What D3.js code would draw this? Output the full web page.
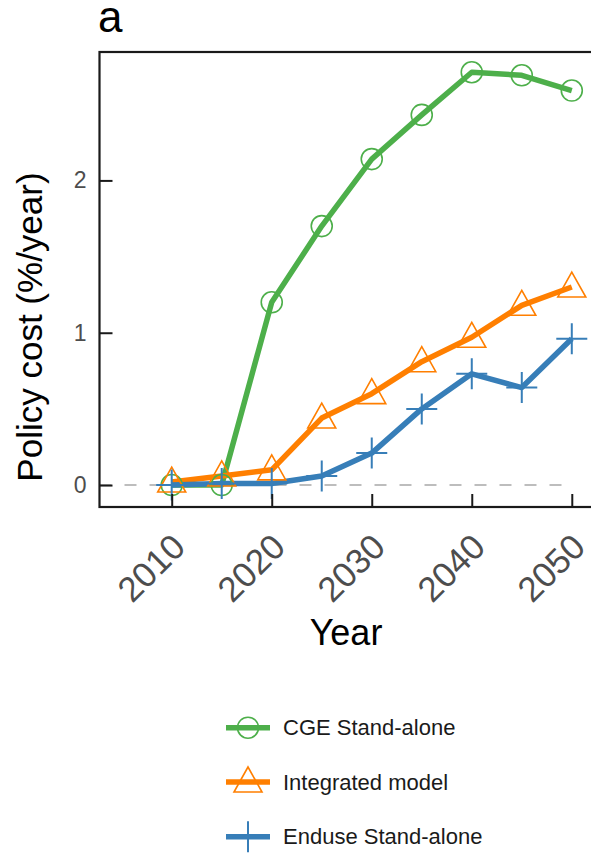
<!DOCTYPE html>
<html><head><meta charset="utf-8">
<script src="https://cdn.jsdelivr.net/npm/d3@7"></script>
<style>body{margin:0;background:#fff;} svg{display:block;font-family:"Liberation Sans",Arial,sans-serif;}</style>
</head><body>
<svg id="c" width="591" height="855"></svg>
<script>
const years = [2010, 2015, 2020, 2025, 2030, 2035, 2040, 2045, 2050];
const cgeValues = [0.0, 0.0, 1.20, 1.70, 2.14, 2.43, 2.71, 2.69, 2.59];
const integratedValues = [0.02, 0.06, 0.10, 0.44, 0.60, 0.81, 0.97, 1.18, 1.30];
const enduseValues = [0.0, 0.01, 0.01, 0.06, 0.21, 0.50, 0.73, 0.64, 0.96];
const seriesNames = ["CGE Stand-alone", "Integrated model", "Enduse Stand-alone"];
const seriesColors = ["#4daf4a", "#ff7f00", "#377eb8"];
const seriesShapes = ["circle", "triangle", "plus"];
const xTicks = [2010, 2020, 2030, 2040, 2050];
const yTicks = [0, 1, 2];

const svg = d3.select("#c");
const L = 99.5, T = 52, B = 507, R = 644;
const x = d3.scaleLinear().domain([2002.78, 2057.22]).range([L, R]);
const y = d3.scaleLinear().domain([-0.144, 2.843]).range([B, T]);

const series = [cgeValues, integratedValues, enduseValues].map((v, i) => ({
  name: seriesNames[i], color: seriesColors[i], shape: seriesShapes[i],
  pts: years.map((yr, j) => ({yr, v: v[j]}))
}));

// zero dashed line
svg.append("line").attr("x1", x(2002.78)).attr("x2", x(2050))
  .attr("y1", y(0)).attr("y2", y(0))
  .attr("stroke", "#bdbdbd").attr("stroke-width", 2).attr("stroke-dasharray", "12,13");

const line = d3.line().x(d => x(d.yr)).y(d => y(d.v));
series.forEach(s => {
  svg.append("path").attr("d", line(s.pts)).attr("fill", "none")
    .attr("stroke", s.color).attr("stroke-width", 5.5).attr("stroke-linejoin", "round");
});

function marker(g, shape, color, cx, cy) {
  if (shape === "circle") {
    g.append("circle").attr("cx", cx).attr("cy", cy).attr("r", 10.5)
      .attr("fill", "none").attr("stroke", color).attr("stroke-width", 1.6);
  } else if (shape === "triangle") {
    const h = 25, w = 28;
    const p = [[cx, cy - h * 0.6], [cx - w / 2, cy + h * 0.4], [cx + w / 2, cy + h * 0.4]];
    g.append("path").attr("d", "M" + p.map(q => q.join(",")).join("L") + "Z")
      .attr("fill", "none").attr("stroke", color).attr("stroke-width", 1.6);
  } else {
    const a = 15.5;
    g.append("path").attr("d", `M${cx - a},${cy}H${cx + a}M${cx},${cy - a}V${cy + a}`)
      .attr("fill", "none").attr("stroke", color).attr("stroke-width", 2);
  }
}
series.forEach(s => {
  const g = svg.append("g");
  s.pts.forEach(d => marker(g, s.shape, s.color, x(d.yr), y(d.v)));
});

// panel border
svg.append("rect").attr("x", L).attr("y", T).attr("width", R - L).attr("height", B - T)
  .attr("fill", "none").attr("stroke", "#1a1a1a").attr("stroke-width", 2.2);

// y axis ticks (inward)
const yAxis = d3.axisLeft(y).tickValues(yTicks).tickSize(-13).tickPadding(26).tickFormat(d3.format("d"));
const gy = svg.append("g").attr("transform", `translate(${L},0)`).call(yAxis);
gy.select(".domain").remove();
gy.selectAll(".tick line").attr("stroke", "#1a1a1a").attr("stroke-width", 2);
gy.selectAll(".tick text").attr("fill", "#4d4d4d").attr("font-size", 23).attr("x", -13);

// x axis ticks (inward)
const xAxis = d3.axisBottom(x).tickValues(xTicks).tickSize(-13).tickFormat(d3.format("d"));
const gx = svg.append("g").attr("transform", `translate(0,${B})`).call(xAxis);
gx.select(".domain").remove();
gx.selectAll(".tick line").attr("stroke", "#1a1a1a").attr("stroke-width", 2);
gx.selectAll(".tick text").attr("fill", "#4d4d4d").attr("font-size", 35)
  .attr("text-anchor", "end").attr("dy", null).attr("y", null)
  .attr("transform", "translate(15,42) rotate(-45)");

// titles
svg.append("text").attr("x", 346).attr("y", 645).attr("text-anchor", "middle")
  .attr("font-size", 36).attr("fill", "#000").text("Year");
svg.append("text").attr("transform", "translate(42,327) rotate(-90)").attr("text-anchor", "middle")
  .attr("font-size", 35).attr("fill", "#000").text("Policy cost (%/year)");
svg.append("text").attr("x", 98).attr("y", 32).attr("font-size", 44).attr("fill", "#000").text("a");

// legend
const legY = [727.7, 782, 836.7];
series.forEach((s, i) => {
  const g = svg.append("g");
  g.append("line").attr("x1", 226).attr("x2", 270).attr("y1", legY[i]).attr("y2", legY[i])
    .attr("stroke", s.color).attr("stroke-width", 5.5);
  marker(g, s.shape, s.color, 248, legY[i]);
  g.append("text").attr("x", 283).attr("y", legY[i]).attr("dy", "0.35em")
    .attr("font-size", 22).attr("fill", "#1a1a1a").text(s.name);
});
</script>
</body></html>
